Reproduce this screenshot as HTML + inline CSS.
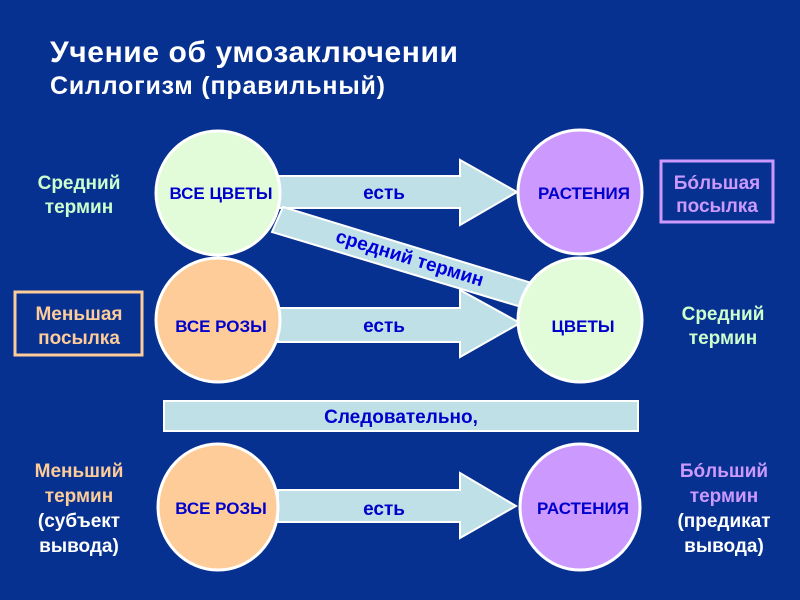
<!DOCTYPE html>
<html><head><meta charset="utf-8"><style>
html,body{margin:0;padding:0;background:#073191;}
svg{display:block;font-family:"Liberation Sans",sans-serif;font-weight:bold;}
</style></head><body>
<svg width="800" height="600" viewBox="0 0 800 600">
<rect width="800" height="600" fill="#073191"/>
<text x="50" y="62" fill="#fff" font-size="30" textLength="408">Учение об умозаключении</text>
<text x="50" y="94" fill="#fff" font-size="25" textLength="335">Силлогизм (правильный)</text>

<g fill="#bfe0e6" stroke="#fff" stroke-width="2">
<polygon points="278,176 460,176 460,160 517,192 460,225 460,208 278,208"/>
<polygon points="278,308 460,308 460,290 520,323 460,357 460,342 278,342"/>
<polygon points="278,490 460,490 460,473 516,506 460,538 460,522 278,522"/>
<polygon points="283,207 535,284 528,309 272,232"/>
</g>
<text transform="translate(408,264) rotate(17)" text-anchor="middle" fill="#0000dd" font-size="19">средний термин</text>
<g fill="#0000cc" font-size="19" text-anchor="middle">
<text x="384" y="199">есть</text>
<text x="384" y="332">есть</text>
<text x="384" y="515">есть</text>
</g>

<g stroke="#fff" stroke-width="3">
<circle cx="218" cy="193" r="62" fill="#e2fbd8"/>
<circle cx="580" cy="192" r="62" fill="#cc99ff"/>
<circle cx="218" cy="320" r="62" fill="#fdcc99"/>
<circle cx="580" cy="320" r="62" fill="#e2fbd8"/>
<ellipse cx="218" cy="507" rx="60" ry="63" fill="#fdcc99"/>
<ellipse cx="580" cy="507" rx="60" ry="63" fill="#cc99ff"/>
</g>
<g fill="#0000cc" font-size="17" text-anchor="middle">
<text x="221" y="199">ВСЕ ЦВЕТЫ</text>
<text x="584" y="199">РАСТЕНИЯ</text>
<text x="221" y="332">ВСЕ РОЗЫ</text>
<text x="583" y="332">ЦВЕТЫ</text>
<text x="221" y="514">ВСЕ РОЗЫ</text>
<text x="583" y="514">РАСТЕНИЯ</text>
</g>

<rect x="164" y="401" width="474" height="30" fill="#bfe0e6" stroke="#fff" stroke-width="2"/>
<text x="401" y="423" text-anchor="middle" fill="#0000cc" font-size="19">Следовательно,</text>

<rect x="661" y="161" width="112" height="61" fill="none" stroke="#cc99ff" stroke-width="3"/>
<text x="717" y="189" text-anchor="middle" fill="#cc99ff" font-size="19">Бóльшая</text>
<text x="717" y="212" text-anchor="middle" fill="#cc99ff" font-size="19">посылка</text>
<rect x="15" y="292" width="127" height="63" fill="none" stroke="#fdcc99" stroke-width="3"/>
<text x="79" y="320" text-anchor="middle" fill="#fdcc99" font-size="19">Меньшая</text>
<text x="79" y="344" text-anchor="middle" fill="#fdcc99" font-size="19">посылка</text>

<g fill="#ccffcc" font-size="19" text-anchor="middle">
<text x="79" y="189">Средний</text>
<text x="79" y="213">термин</text>
<text x="723" y="320">Средний</text>
<text x="723" y="344">термин</text>
</g>
<g fill="#fdcc99" font-size="19" text-anchor="middle">
<text x="79" y="477">Меньший</text>
<text x="79" y="502">термин</text>
</g>
<g fill="#fff" font-size="19" text-anchor="middle">
<text x="79" y="527">(субъект</text>
<text x="79" y="552">вывода)</text>
<text x="724" y="527">(предикат</text>
<text x="724" y="552">вывода)</text>
</g>
<g fill="#cc99ff" font-size="19" text-anchor="middle">
<text x="724" y="477">Бóльший</text>
<text x="724" y="502">термин</text>
</g>
</svg>
</body></html>
